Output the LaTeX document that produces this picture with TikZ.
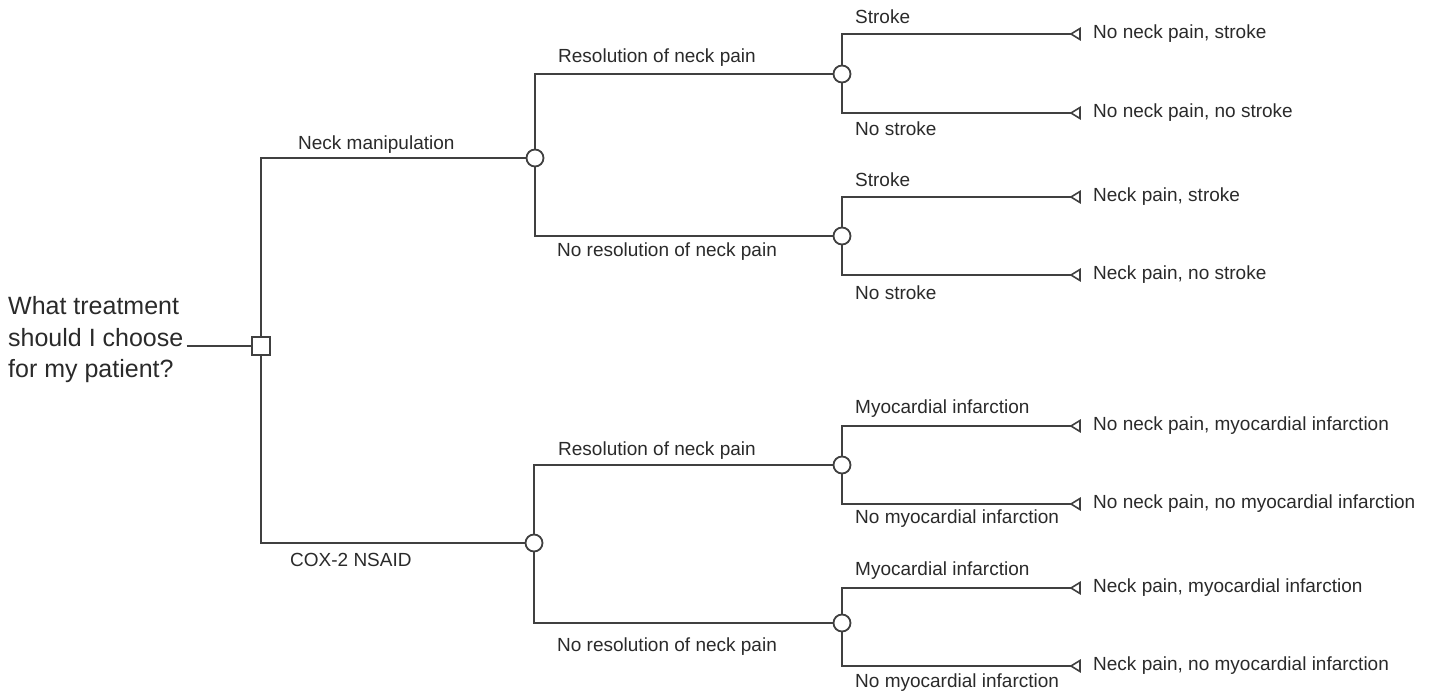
\documentclass[tikz,border=0pt]{standalone}
\usepackage{fontspec}
\setmainfont{Liberation Sans}
\definecolor{ln}{HTML}{404040}
\definecolor{tx}{HTML}{2A2A2A}
\tikzset{
  edge/.style={draw=ln, line width=1.8pt},
  decision/.style={draw=ln, fill=white, line width=1.8pt, minimum size=18pt, inner sep=0pt},
  chance/.style={circle, draw=ln, fill=white, line width=1.8pt, minimum size=17pt, inner sep=0pt},
  terminal/.style={draw=ln, fill=white, line width=1.6pt, line join=miter},
  lab/.style={text=tx, font=\fontsize{19}{23}\selectfont, inner sep=0pt, anchor=west},
  qtext/.style={text=tx, font=\fontsize{25}{31.5}\selectfont, inner sep=0pt, anchor=west, align=left}
}
\begin{document}
\begin{tikzpicture}[x=1pt, y=-1pt]
\useasboundingbox (0,0) rectangle (1436,693);
% nodes
\node[qtext] (q) at (8,340) {What treatment\\should I choose\\for my patient?};
\node[decision] (D) at (261,346) {};
\node[chance] (C1) at (535,158) {};
\node[chance] (C2) at (534,543) {};
\node[chance] (C11) at (842,74) {};
\node[chance] (C12) at (842,236) {};
\node[chance] (C21) at (842,465) {};
\node[chance] (C22) at (842,623) {};
\foreach \i/\y in {1/34,2/113,3/197,4/275,5/426,6/504,7/588,8/666}{
  \coordinate (T\i) at (1071,\y);
}
% connectors
\draw[edge] (q.east |- D.west) ++(3,0) coordinate (qs) -- (D.west);
\draw[edge] (D.north) |- (C1.west);
\draw[edge] (D.south) |- (C2.west);
\draw[edge] (C1.north) |- (C11.west);
\draw[edge] (C1.south) |- (C12.west);
\draw[edge] (C2.north) |- (C21.west);
\draw[edge] (C2.south) |- (C22.west);
\draw[edge] (C11.north) |- (T1);
\draw[edge] (C11.south) |- (T2);
\draw[edge] (C12.north) |- (T3);
\draw[edge] (C12.south) |- (T4);
\draw[edge] (C21.north) |- (T5);
\draw[edge] (C21.south) |- (T6);
\draw[edge] (C22.north) |- (T7);
\draw[edge] (C22.south) |- (T8);
% terminal triangles
\foreach \i in {1,...,8}{
  \draw[terminal] (T\i) -- ++(9,-5.5) -- ++(0,11) -- cycle;
}
% branch labels
\node[lab] (l1) at (298,145) {Neck manipulation};
\node[lab] (l2) at (290,560) {COX-2 NSAID};
\node[lab] (l11) at (558,58) {Resolution of neck pain};
\node[lab] (l12) at (557,252) {No resolution of neck pain};
\node[lab] (l21) at (558,451) {Resolution of neck pain};
\node[lab] (l22) at (557,647) {No resolution of neck pain};
\node[lab] (s1) at (855,17) {Stroke};
\node[lab] (s2) at (855,129) {No stroke};
\node[lab] (s3) at (855,180) {Stroke};
\node[lab] (s4) at (855,293) {No stroke};
\node[lab] (m1) at (855,409) {Myocardial infarction};
\node[lab] (m2) at (855,519) {No myocardial infarction};
\node[lab] (m3) at (855,571) {Myocardial infarction};
\node[lab] (m4) at (855,683) {No myocardial infarction};
% outcome labels
\node[lab] (o1) at (1093,34) {No neck pain, stroke};
\node[lab] (o2) at (1093,113) {No neck pain, no stroke};
\node[lab] (o3) at (1093,197) {Neck pain, stroke};
\node[lab] (o4) at (1093,275) {Neck pain, no stroke};
\node[lab] (o5) at (1093,426) {No neck pain, myocardial infarction};
\node[lab] (o6) at (1093,504) {No neck pain, no myocardial infarction};
\node[lab] (o7) at (1093,588) {Neck pain, myocardial infarction};
\node[lab] (o8) at (1093,666) {Neck pain, no myocardial infarction};
\end{tikzpicture}
\end{document}
